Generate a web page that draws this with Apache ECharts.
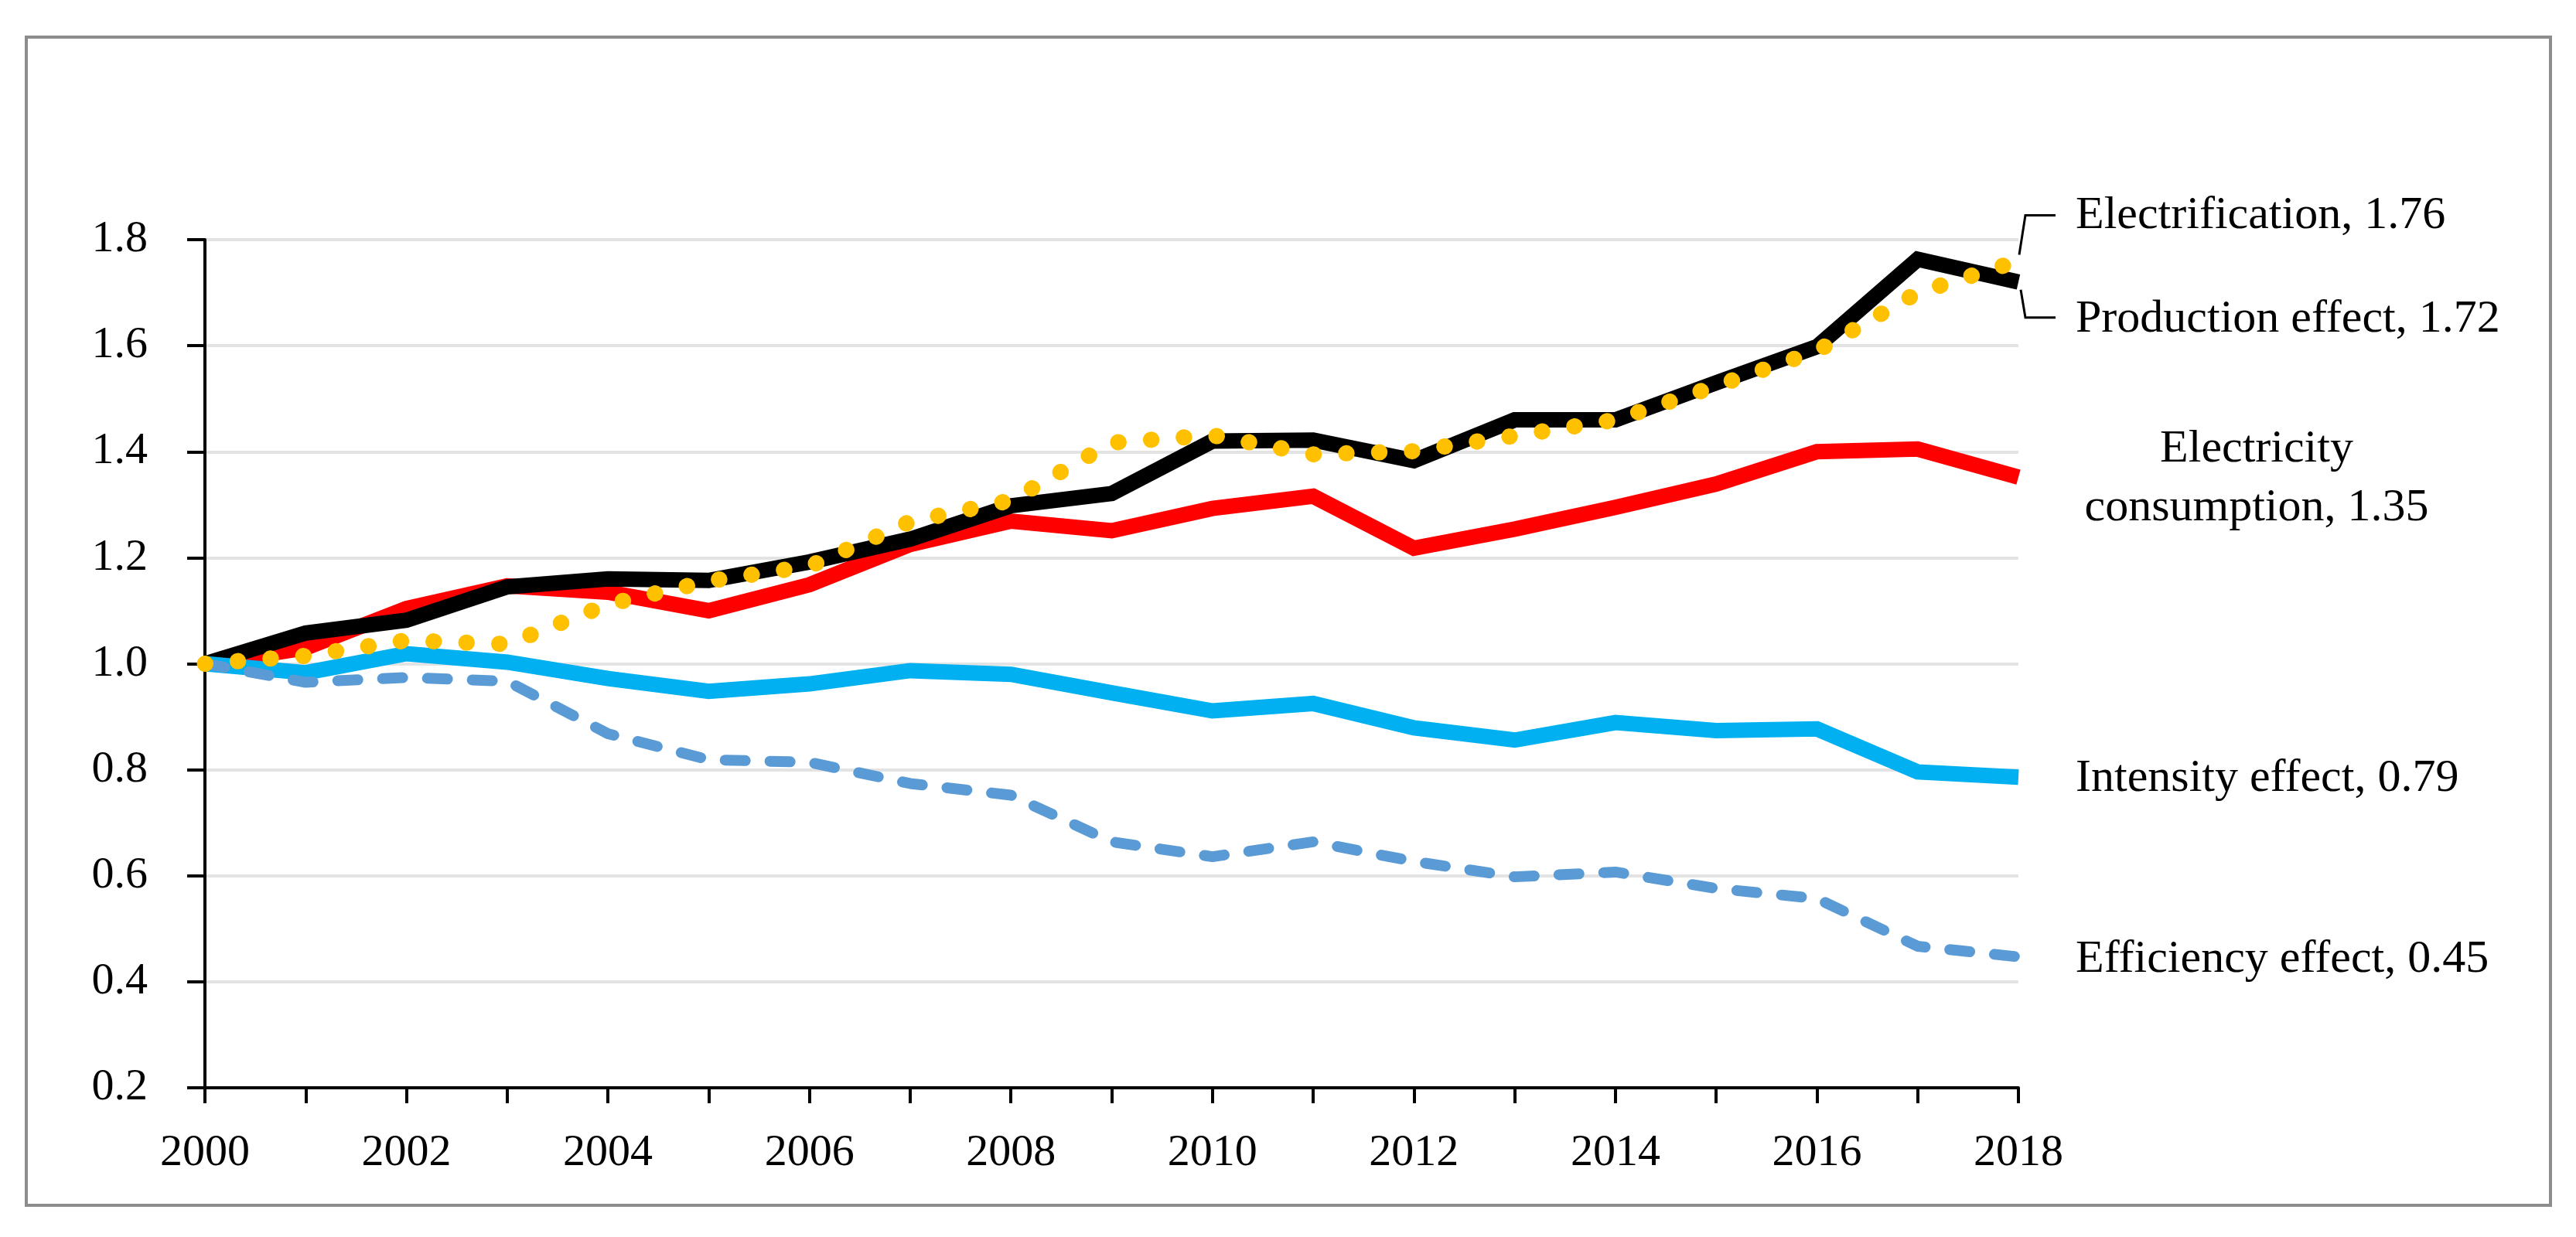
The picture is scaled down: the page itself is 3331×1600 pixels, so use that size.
<!DOCTYPE html>
<html>
<head>
<meta charset="utf-8">
<script src="https://cdn.jsdelivr.net/npm/echarts@6/dist/echarts.min.js"></script>
<style>
  html, body { margin: 0; padding: 0; background: #ffffff; }
  #chart { width: 3331px; height: 1600px; }
</style>
</head>
<body>
<div id="chart"></div>
<script>
// ---- data ----
const years = ['2000','2001','2002','2003','2004','2005','2006','2007','2008','2009',
               '2010','2011','2012','2013','2014','2015','2016','2017','2018'];
const production      = [1.000, 1.058, 1.082, 1.145, 1.160, 1.157, 1.192, 1.235, 1.298, 1.321, 1.420, 1.422, 1.383, 1.460, 1.460, 1.530, 1.598, 1.763, 1.720];
const consumption     = [1.000, 1.030, 1.104, 1.147, 1.135, 1.100, 1.149, 1.225, 1.269, 1.251, 1.293, 1.316, 1.218, 1.254, 1.295, 1.339, 1.400, 1.405, 1.352];
const intensity       = [1.000, 0.983, 1.019, 1.003, 0.972, 0.948, 0.962, 0.987, 0.980, 0.945, 0.911, 0.925, 0.879, 0.856, 0.889, 0.874, 0.877, 0.796, 0.786];
const efficiency      = [1.000, 0.965, 0.974, 0.967, 0.868, 0.819, 0.814, 0.774, 0.752, 0.664, 0.636, 0.664, 0.627, 0.598, 0.607, 0.576, 0.557, 0.467, 0.447];
const electrification = [1.000, 1.015, 1.044, 1.037, 1.112, 1.156, 1.184, 1.268, 1.308, 1.417, 1.431, 1.395, 1.401, 1.430, 1.460, 1.524, 1.590, 1.700, 1.760];
const seriesNames = ['Electricity consumption', 'Production effect', 'Intensity effect', 'Efficiency effect', 'Electrification'];
const yTicks = [0.2, 0.4, 0.6, 0.8, 1.0, 1.2, 1.4, 1.6, 1.8];

const FONT = 'Liberation Serif';
const chart = echarts.init(document.getElementById('chart'), null, { renderer: 'canvas' });

const option = {
  animation: false,
  backgroundColor: '#ffffff',
  grid: { left: 265, right: 721, top: 310, bottom: 193, containLabel: false },
  xAxis: {
    type: 'category',
    data: years,
    boundaryGap: false,
    axisLine: { show: true, onZero: false, lineStyle: { color: '#000000', width: 4 } },
    axisTick: { show: true, interval: 0, length: 20, inside: false, lineStyle: { color: '#000000', width: 4 } },
    axisLabel: { interval: 1, margin: 56, fontFamily: FONT, fontSize: 58, color: '#000000' },
    splitLine: { show: false }
  },
  yAxis: {
    type: 'value',
    min: yTicks[0],
    max: yTicks[yTicks.length - 1],
    interval: 0.2,
    axisLine: { show: true, lineStyle: { color: '#000000', width: 4 } },
    axisTick: { show: true, length: 23, inside: false, lineStyle: { color: '#000000', width: 4 } },
    axisLabel: { margin: 74, fontFamily: FONT, fontSize: 58, color: '#000000',
                 formatter: v => v.toFixed(1) },
    splitLine: { show: true, lineStyle: { color: '#e3e3e3', width: 4 } }
  },
  series: [
    { name: seriesNames[0], type: 'line', data: consumption, showSymbol: false, z: 2,
      lineStyle: { color: '#ff0000', width: 20, join: 'miter', cap: 'butt' } },
    { name: seriesNames[1], type: 'line', data: production, showSymbol: false, z: 3,
      lineStyle: { color: '#000000', width: 20, join: 'miter', cap: 'butt' } },
    { name: seriesNames[2], type: 'line', data: intensity, showSymbol: false, z: 4,
      lineStyle: { color: '#00b0f0', width: 20, join: 'miter', cap: 'butt' } },
    { name: seriesNames[3], type: 'line', data: efficiency, showSymbol: false, z: 5,
      lineStyle: { color: '#5b9bd5', width: 14, type: [26, 32], cap: 'round', join: 'round' } },
    { name: seriesNames[4], type: 'line', data: electrification, showSymbol: false, z: 6,
      lineStyle: { color: '#ffc000', width: 21, type: [0.5, 42], cap: 'round', join: 'round' } }
  ]
};
chart.setOption(option);

// ---- annotations placed from data through the chart's own scales ----
const last = years.length - 1;
function pt(arr) { return chart.convertToPixel({ gridIndex: 0 }, [last, arr[last]]); }
const pE = pt(electrification), pP = pt(production), pC = pt(consumption),
      pI = pt(intensity), pF = pt(efficiency);
const txt = (s, x, y, align) => ({
  type: 'text', x: x, y: y, z: 10,
  style: { text: s, fill: '#000000', font: '60px "' + FONT + '"', align: align || 'left',
           verticalAlign: 'middle', lineHeight: 76 }
});
const f2 = v => v.toFixed(2);
chart.setOption({
  graphic: [
    { type: 'rect', z: 0, silent: true,
      shape: { x: 34, y: 48, width: 3264, height: 1511 },
      style: { fill: 'none', stroke: '#8c8c8c', lineWidth: 4 } },
    txt(seriesNames[4] + ', ' + f2(electrification[last]), pE[0] + 74, pE[1] - 58),
    txt(seriesNames[1] + ', ' + f2(production[last]), pP[0] + 74, pP[1] + 48),
    txt('Electricity\nconsumption, ' + f2(consumption[last]), pC[0] + 308, pC[1] + 2, 'center'),
    txt(seriesNames[2] + ', ' + f2(intensity[last]), pI[0] + 74, pI[1] + 2),
    txt(seriesNames[3] + ', ' + f2(efficiency[last]), pF[0] + 74, pF[1] + 4),
    { type: 'polyline', z: 10, shape: { points: [[pE[0] + 1, pE[1] - 8], [pE[0] + 9, pE[1] - 59], [pE[0] + 48, pE[1] - 59]] },
      style: { stroke: '#000000', lineWidth: 3, fill: 'none' } },
    { type: 'polyline', z: 10, shape: { points: [[pP[0] + 3, pP[1] + 10], [pP[0] + 9, pP[1] + 46], [pP[0] + 48, pP[1] + 46]] },
      style: { stroke: '#000000', lineWidth: 3, fill: 'none' } }
  ]
});
</script>
</body>
</html>
